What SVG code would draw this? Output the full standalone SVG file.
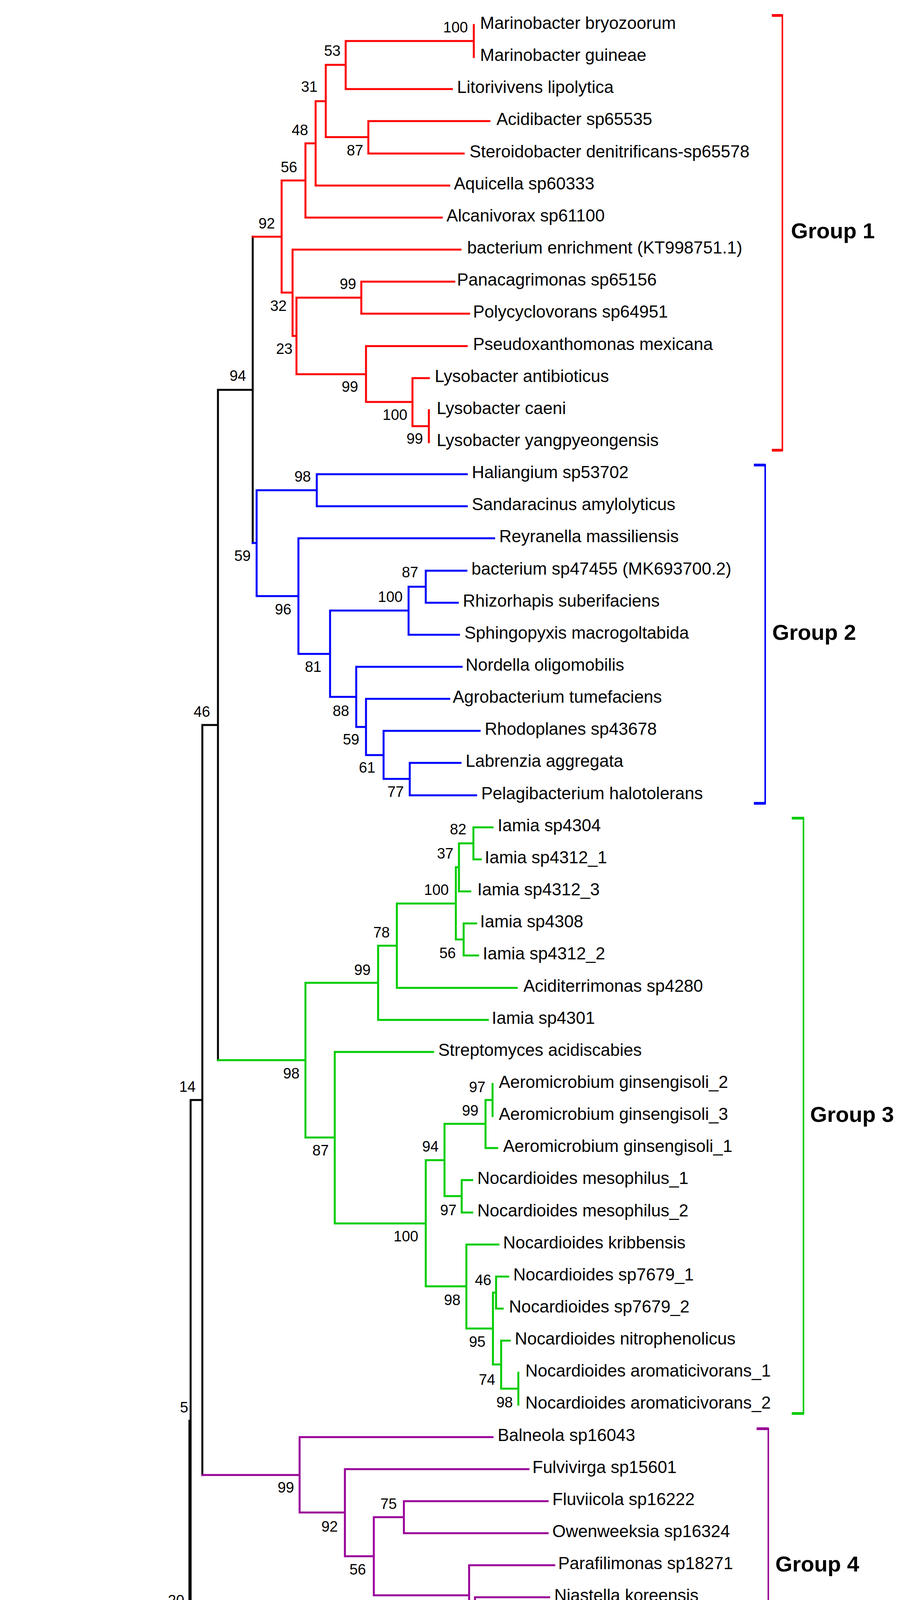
<svg xmlns="http://www.w3.org/2000/svg" width="2299" height="5272" viewBox="0 0 2299 5272">
<style>
.br{fill:none;stroke-width:5;stroke-linecap:square}
.k{stroke:#000000}.r{stroke:#FF0000}.b{stroke:#0000FF}.g{stroke:#00CC00}.p{stroke:#990099}.m{stroke:#FF00FF}.o{stroke:#FF8000}.d{stroke:#990000}
.lf{font-family:"Liberation Sans",Arial,sans-serif;font-size:44px;fill:#000}
.bs{font-family:"Liberation Sans",Arial,sans-serif;font-size:38px;fill:#000;text-anchor:end}
.gl{font-family:"Liberation Sans",Arial,sans-serif;font-size:56px;font-weight:bold;fill:#000}
</style>
<rect width="2299" height="5272" fill="#fff"/>
<g id="connectors">
<path class="br k" d="M42 4469V5034M42 4469H445M42 5034H1416M1416 4993V5075M1416 4993H1431M445 4130V4808M445 4130H485M485 3637V4623M485 3637H488M488 2816V4459M488 2816H518M518 1856V3776M518 1856H558M558 998V2714M558 998H647M647 606V1390"/>
<path class="br r" d="M647 606H721M721 462V749M721 462H782M721 749H749M782 367V557M782 367H808M782 557H1131M808 259V475M808 259H834M808 475H1150M834 166V351M834 166H885M834 351H943M885 105V228M885 105H1213M885 228H1157M1213 64V146M943 310V393M943 310H1253M943 393H1187M749 639V860M749 639H1179M749 860H759M759 762V958M759 762H925M759 958H937M925 721V803M925 721H1163M925 803H1201M937 886V1029M937 886H1195M937 1029H1056M1056 968V1091M1056 968H1098M1056 1091H1098M1098 1050V1132"/>
<path class="br b" d="M647 1390H657M657 1255V1526M657 1255H811M657 1526H764M811 1214V1296M811 1214H1195M811 1296H1195M764 1378V1674M764 1378H1265M764 1674H845M845 1563V1784M845 1563H1046M845 1784H912M1046 1502V1625M1046 1502H1090M1046 1625H1175M1090 1461V1543M1090 1461H1194M1090 1543H1172M912 1707V1861M912 1707H1182M912 1861H937M937 1789V1933M937 1789H1150M937 1933H982M982 1871V1994M982 1871H1228M982 1994H1049M1049 1953V2036M1049 1953H1179M1049 2036H1219"/>
<path class="br g" d="M558 2714H782M782 2516V2912M782 2516H968M782 2912H857M968 2421V2611M968 2421H1016M968 2611H1249M1016 2313V2529M1016 2313H1167M1016 2529H1323M1167 2220V2405M1167 2220H1175M1167 2405H1187M1175 2159V2282M1175 2159H1212M1175 2282H1204M1212 2118V2200M1212 2118H1261M1212 2200H1231M1187 2364V2446M1187 2364H1219M1187 2446H1224M857 2693V3132M857 2693H1109M857 3132H1090M1090 2970V3293M1090 2970H1138M1090 3293H1194M1138 2877V3062M1138 2877H1243M1138 3062H1182M1243 2816V2939M1243 2816H1261M1243 2939H1273M1261 2775V2857M1182 3021V3104M1182 3021H1209M1182 3104H1209M1194 3186V3401M1194 3186H1276M1194 3401H1262M1262 3309V3493M1262 3309H1270M1262 3493H1283M1270 3268V3350M1270 3268H1301M1270 3350H1287M1283 3432V3555M1283 3432H1305M1283 3555H1327M1327 3514V3596"/>
<path class="br p" d="M518 3776H767M767 3679V3872M767 3679H1261M767 3872H883M883 3761V3984M883 3761H1353M883 3984H957M957 3884V4084M957 3884H1034M957 4084H1201M1034 3843V3925M1034 3843H1402M1034 3925H1402M1201 4007V4161M1201 4007H1419M1201 4161H1216M1216 4089V4233M1216 4089H1406M1216 4233H1276M1276 4172V4295M1276 4172H1382M1276 4295H1387M1387 4254V4336M1387 4254H1436M1387 4336H1431"/>
<path class="br m" d="M488 4459H549M549 4418V4500M549 4418H1302M549 4500H1305"/>
<path class="br o" d="M485 4623H967M967 4582V4664M967 4582H1391M967 4664H1365"/>
<path class="br d" d="M445 4808H482M482 4747V4870M482 4747H1135M482 4870H1023M1023 4829V4911M1023 4829H1135M1023 4911H1120"/>
</g>
<g id="leaves">
<g id="leaf-0"><text class="lf" x="1229" y="74">Marinobacter bryozoorum</text></g>
<g id="leaf-1"><text class="lf" x="1229" y="156">Marinobacter guineae</text></g>
<g id="leaf-2"><text class="lf" x="1170" y="238">Litorivivens lipolytica</text></g>
<g id="leaf-3"><text class="lf" x="1271" y="320">Acidibacter sp65535</text></g>
<g id="leaf-4"><text class="lf" x="1202" y="403">Steroidobacter denitrificans-sp65578</text></g>
<g id="leaf-5"><text class="lf" x="1162" y="485">Aquicella sp60333</text></g>
<g id="leaf-6"><text class="lf" x="1143" y="567">Alcanivorax sp61100</text></g>
<g id="leaf-7"><text class="lf" x="1196" y="649">bacterium enrichment (KT998751.1)</text></g>
<g id="leaf-8"><text class="lf" x="1170" y="731">Panacagrimonas sp65156</text></g>
<g id="leaf-9"><text class="lf" x="1211" y="813">Polycyclovorans sp64951</text></g>
<g id="leaf-10"><text class="lf" x="1211" y="896">Pseudoxanthomonas mexicana</text></g>
<g id="leaf-11"><text class="lf" x="1113" y="978">Lysobacter antibioticus</text></g>
<g id="leaf-12"><text class="lf" x="1118" y="1060">Lysobacter caeni</text></g>
<g id="leaf-13"><text class="lf" x="1118" y="1142">Lysobacter yangpyeongensis</text></g>
<g id="leaf-14"><text class="lf" x="1208" y="1224">Haliangium sp53702</text></g>
<g id="leaf-15"><text class="lf" x="1208" y="1306">Sandaracinus amylolyticus</text></g>
<g id="leaf-16"><text class="lf" x="1278" y="1388">Reyranella massiliensis</text></g>
<g id="leaf-17"><text class="lf" x="1207" y="1471">bacterium sp47455 (MK693700.2)</text></g>
<g id="leaf-18"><text class="lf" x="1185" y="1553">Rhizorhapis suberifaciens</text></g>
<g id="leaf-19"><text class="lf" x="1189" y="1635">Sphingopyxis macrogoltabida</text></g>
<g id="leaf-20"><text class="lf" x="1192" y="1717">Nordella oligomobilis</text></g>
<g id="leaf-21"><text class="lf" x="1159" y="1799">Agrobacterium tumefaciens</text></g>
<g id="leaf-22"><text class="lf" x="1241" y="1881">Rhodoplanes sp43678</text></g>
<g id="leaf-23"><text class="lf" x="1192" y="1963">Labrenzia aggregata</text></g>
<g id="leaf-24"><text class="lf" x="1232" y="2046">Pelagibacterium halotolerans</text></g>
<g id="leaf-25"><text class="lf" x="1274" y="2128">Iamia sp4304</text></g>
<g id="leaf-26"><text class="lf" x="1241" y="2210">Iamia sp4312_1</text></g>
<g id="leaf-27"><text class="lf" x="1222" y="2292">Iamia sp4312_3</text></g>
<g id="leaf-28"><text class="lf" x="1229" y="2374">Iamia sp4308</text></g>
<g id="leaf-29"><text class="lf" x="1236" y="2456">Iamia sp4312_2</text></g>
<g id="leaf-30"><text class="lf" x="1340" y="2539">Aciditerrimonas sp4280</text></g>
<g id="leaf-31"><text class="lf" x="1259" y="2621">Iamia sp4301</text></g>
<g id="leaf-32"><text class="lf" x="1122" y="2703">Streptomyces acidiscabies</text></g>
<g id="leaf-33"><text class="lf" x="1277" y="2785">Aeromicrobium ginsengisoli_2</text></g>
<g id="leaf-34"><text class="lf" x="1277" y="2867">Aeromicrobium ginsengisoli_3</text></g>
<g id="leaf-35"><text class="lf" x="1288" y="2949">Aeromicrobium ginsengisoli_1</text></g>
<g id="leaf-36"><text class="lf" x="1222" y="3031">Nocardioides mesophilus_1</text></g>
<g id="leaf-37"><text class="lf" x="1222" y="3114">Nocardioides mesophilus_2</text></g>
<g id="leaf-38"><text class="lf" x="1288" y="3196">Nocardioides kribbensis</text></g>
<g id="leaf-39"><text class="lf" x="1314" y="3278">Nocardioides sp7679_1</text></g>
<g id="leaf-40"><text class="lf" x="1303" y="3360">Nocardioides sp7679_2</text></g>
<g id="leaf-41"><text class="lf" x="1318" y="3442">Nocardioides nitrophenolicus</text></g>
<g id="leaf-42"><text class="lf" x="1345" y="3524">Nocardioides aromaticivorans_1</text></g>
<g id="leaf-43"><text class="lf" x="1345" y="3606">Nocardioides aromaticivorans_2</text></g>
<g id="leaf-44"><text class="lf" x="1274" y="3689">Balneola sp16043</text></g>
<g id="leaf-45"><text class="lf" x="1363" y="3771">Fulvivirga sp15601</text></g>
<g id="leaf-46"><text class="lf" x="1414" y="3853">Fluviicola sp16222</text></g>
<g id="leaf-47"><text class="lf" x="1414" y="3935">Owenweeksia sp16324</text></g>
<g id="leaf-48"><text class="lf" x="1429" y="4017">Parafilimonas sp18271</text></g>
<g id="leaf-49"><text class="lf" x="1419" y="4099">Niastella koreensis</text></g>
<g id="leaf-50"><text class="lf" x="1395" y="4182">Chitinophaga pinensis</text></g>
<g id="leaf-51"><text class="lf" x="1447" y="4264">Chitinophaga cymbidii</text></g>
<g id="leaf-52"><text class="lf" x="1447" y="4346">Chitinophaga sp18075</text></g>
<g id="leaf-53"><text class="lf" x="1315" y="4428">Haloferula sp69345-sp69452</text></g>
<g id="leaf-54"><text class="lf" x="1318" y="4510">Parachlamydia acanthamoebae</text></g>
<g id="leaf-55"><text class="lf" x="1401" y="4592">Pirellula sp41785</text></g>
<g id="leaf-56"><text class="lf" x="1377" y="4674">Planctomyces sp41822</text></g>
<g id="leaf-57"><text class="lf" x="1145" y="4757">Bryobacter sp2433</text></g>
<g id="leaf-58"><text class="lf" x="1145" y="4839">Nitrospira sp39702-sp39756</text></g>
<g id="leaf-59"><text class="lf" x="1133" y="4921">Nitrospira sp39706</text></g>
<g id="leaf-60"><text class="lf" x="1444" y="5003">Nitrososphaera sp1566_1</text></g>
<g id="leaf-61"><text class="lf" x="1429" y="5085">Nitrososphaera sp1566_2</text></g>
</g>
<g id="nodes">
<g id="n1"><text class="bs" x="1198" y="83">100</text></g>
<g id="n2"><text class="bs" x="872" y="143">53</text></g>
<g id="n3"><text class="bs" x="813" y="235">31</text></g>
<g id="n4"><text class="bs" x="789" y="346">48</text></g>
<g id="n5"><text class="bs" x="930" y="398">87</text></g>
<g id="n6"><text class="bs" x="761" y="441">56</text></g>
<g id="n7"><text class="bs" x="704" y="585">92</text></g>
<g id="n8"><text class="bs" x="912" y="740">99</text></g>
<g id="n9"><text class="bs" x="734" y="796">32</text></g>
<g id="n10"><text class="bs" x="749" y="906">23</text></g>
<g id="n11"><text class="bs" x="630" y="975">94</text></g>
<g id="n12"><text class="bs" x="917" y="1003">99</text></g>
<g id="n13"><text class="bs" x="1043" y="1075">100</text></g>
<g id="n14"><text class="bs" x="1083" y="1136">99</text></g>
<g id="n15"><text class="bs" x="796" y="1233">98</text></g>
<g id="n16"><text class="bs" x="642" y="1436">59</text></g>
<g id="n17"><text class="bs" x="1071" y="1478">87</text></g>
<g id="n18"><text class="bs" x="1031" y="1541">100</text></g>
<g id="n19"><text class="bs" x="746" y="1573">96</text></g>
<g id="n20"><text class="bs" x="823" y="1720">81</text></g>
<g id="n21"><text class="bs" x="538" y="1835">46</text></g>
<g id="n22"><text class="bs" x="894" y="1833">88</text></g>
<g id="n23"><text class="bs" x="920" y="1906">59</text></g>
<g id="n24"><text class="bs" x="961" y="1978">61</text></g>
<g id="n25"><text class="bs" x="1034" y="2040">77</text></g>
<g id="n26"><text class="bs" x="1194" y="2136">82</text></g>
<g id="n27"><text class="bs" x="1161" y="2198">37</text></g>
<g id="n28"><text class="bs" x="1149" y="2291">100</text></g>
<g id="n29"><text class="bs" x="998" y="2400">78</text></g>
<g id="n30"><text class="bs" x="1167" y="2453">56</text></g>
<g id="n31"><text class="bs" x="949" y="2496">99</text></g>
<g id="n32"><text class="bs" x="767" y="2761">98</text></g>
<g id="n33"><text class="bs" x="501" y="2795">14</text></g>
<g id="n34"><text class="bs" x="1243" y="2796">97</text></g>
<g id="n35"><text class="bs" x="1225" y="2856">99</text></g>
<g id="n36"><text class="bs" x="1123" y="2948">94</text></g>
<g id="n37"><text class="bs" x="842" y="2958">87</text></g>
<g id="n38"><text class="bs" x="1169" y="3111">97</text></g>
<g id="n39"><text class="bs" x="1071" y="3178">100</text></g>
<g id="n40"><text class="bs" x="1258" y="3290">46</text></g>
<g id="n41"><text class="bs" x="1179" y="3341">98</text></g>
<g id="n42"><text class="bs" x="1243" y="3448">95</text></g>
<g id="n43"><text class="bs" x="1268" y="3545">74</text></g>
<g id="n44"><text class="bs" x="1313" y="3603">98</text></g>
<g id="n45"><text class="bs" x="482" y="3616">5</text></g>
<g id="n46"><text class="bs" x="753" y="3821">99</text></g>
<g id="n47"><text class="bs" x="1016" y="3863">75</text></g>
<g id="n48"><text class="bs" x="865" y="3921">92</text></g>
<g id="n49"><text class="bs" x="937" y="4031">56</text></g>
<g id="n50"><text class="bs" x="472" y="4110">20</text></g>
<g id="n51"><text class="bs" x="1187" y="4135">100</text></g>
<g id="n52"><text class="bs" x="1201" y="4210">48</text></g>
<g id="n53"><text class="bs" x="1261" y="4281">86</text></g>
<g id="n54"><text class="bs" x="1372" y="4343">99</text></g>
<g id="n55"><text class="bs" x="527" y="4508">31</text></g>
<g id="n56"><text class="bs" x="949" y="4671">100</text></g>
<g id="n57"><text class="bs" x="475" y="4860">48</text></g>
<g id="n58"><text class="bs" x="1013" y="4918">100</text></g>
<g id="n59"><text class="bs" x="1397" y="5083">100</text></g>
</g>
<g id="group-1"><path d="M1976 39.5H2003V1152.5H1976" fill="none" stroke="#FF0000" stroke-width="4"/><rect x="1976" y="36" width="28" height="7" fill="#FF0000"/><rect x="1976" y="1149" width="28" height="7" fill="#FF0000"/><text class="gl" x="2025" y="610">Group 1</text></g>
<g id="group-2"><path d="M1931 1190.5H1959V2056.5H1931" fill="none" stroke="#0000FF" stroke-width="4"/><rect x="1930" y="1187" width="30" height="7" fill="#0000FF"/><rect x="1930" y="2053" width="30" height="7" fill="#0000FF"/><text class="gl" x="1977" y="1638">Group 2</text></g>
<g id="group-3"><path d="M2028 2094.5H2057V3618.5H2028" fill="none" stroke="#00CC00" stroke-width="4"/><rect x="2027" y="2091" width="31" height="7" fill="#00CC00"/><rect x="2027" y="3615" width="31" height="7" fill="#00CC00"/><text class="gl" x="2074" y="2872">Group 3</text></g>
<g id="group-4"><path d="M1938 3657.5H1967V4358.5H1938" fill="none" stroke="#990099" stroke-width="4"/><rect x="1937" y="3654" width="31" height="7" fill="#990099"/><rect x="1937" y="4355" width="31" height="7" fill="#990099"/><text class="gl" x="1985" y="4023">Group 4</text></g>
<g id="group-5"><path d="M2000 4396.5H2027V4523.5H2000" fill="none" stroke="#FF00FF" stroke-width="4"/><rect x="2000" y="4393" width="28" height="7" fill="#FF00FF"/><rect x="2000" y="4520" width="28" height="7" fill="#FF00FF"/><text class="gl" x="2047" y="4475">Group 5</text></g>
<g id="group-6"><path d="M1899 4561.5H1929V4688.5H1899" fill="none" stroke="#FF8000" stroke-width="4"/><rect x="1899" y="4558" width="31" height="7" fill="#FF8000"/><rect x="1899" y="4685" width="31" height="7" fill="#FF8000"/><text class="gl" x="1947" y="4640">Group 6</text></g>
<g id="group-7"><path d="M1754 4725.5H1781V4934.5H1754" fill="none" stroke="#990000" stroke-width="4"/><rect x="1754" y="4722" width="28" height="7" fill="#990000"/><rect x="1754" y="4931" width="28" height="7" fill="#990000"/><text class="gl" x="1798" y="4845">Group 7</text></g>
<g id="scale-bar"><path d="M218 5197H528" stroke="#000" stroke-width="5" fill="none"/><path d="M218 5182V5212M528 5182V5212" stroke="#000" stroke-width="3" fill="none"/><text class="bs" x="373" y="5245" style="text-anchor:middle">0.05</text></g>
</svg>
